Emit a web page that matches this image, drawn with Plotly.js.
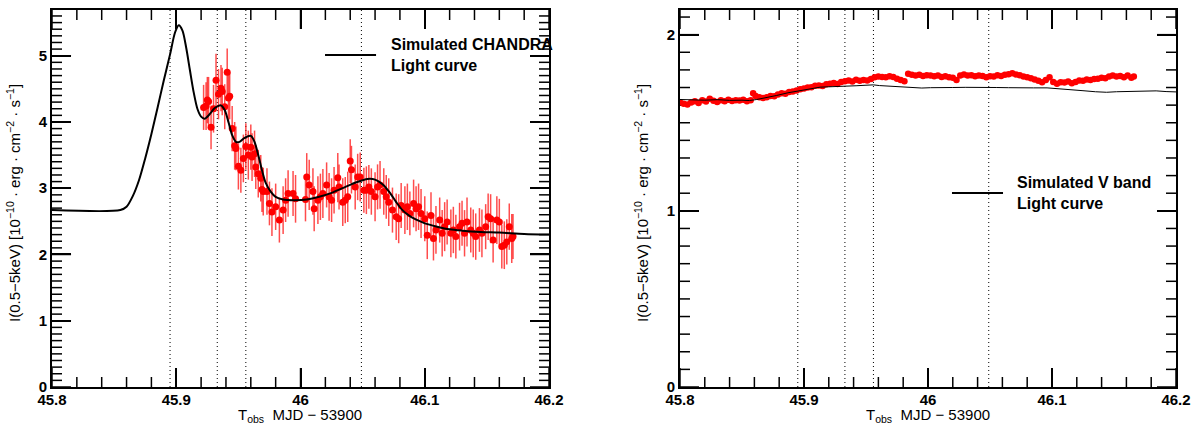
<!DOCTYPE html>
<html><head><meta charset="utf-8">
<script src="https://cdn.plot.ly/plotly-3.0.1.min.js"></script>
<style>html,body{margin:0;padding:0;background:#fff}#chart{width:1195px;height:424px}</style>
</head><body><div id="chart"></div>
<script>
// ---------- Left panel: CHANDRA X-ray ----------
const xrayObsX = [45.922,45.924,45.925,45.926,45.928,45.930,45.932,45.934,45.936,45.937,45.939,45.941,45.942,45.943,45.945,45.947,45.948,45.950,45.952,45.954,45.956,45.958,45.960,45.961,45.963,45.964,45.966,45.968,45.969,
45.970,45.973,45.975,45.977,45.980,45.983,45.986,45.988,45.990,45.994,45.996,46.004,46.005,46.007,46.010,46.011,46.014,46.016,46.018,46.021,46.023,46.025,46.027,46.030,46.031,46.034,46.036,46.038,46.040,46.041,46.044,46.046,46.048,46.051,46.053,46.055,46.057,46.060,46.062,46.064,46.067,46.069,46.071,46.074,46.077,46.079,46.081,46.084,46.086,46.088,46.091,46.093,46.095,46.097,46.100,46.102,46.105,46.107,46.109,46.112,46.114,46.116,46.118,46.121,46.123,46.125,46.128,46.130,46.132,46.134,46.137,46.139,46.141,46.144,46.146,46.149,46.151,46.153,46.155,46.158,46.160,46.162,46.164,46.166,46.168,46.170,46.171];
const xrayObsY = [4.22,4.24,4.33,4.31,3.92,4.20,4.63,4.42,4.51,4.46,4.23,4.75,4.36,4.39,3.90,3.64,3.60,3.33,3.27,3.45,3.63,3.50,3.62,3.47,3.52,3.32,3.22,3.15,2.98,
2.95,2.95,2.77,2.64,2.72,2.52,2.67,2.82,2.92,2.92,2.84,2.83,3.17,3.05,2.95,2.69,2.82,2.87,2.92,3.05,2.87,2.82,2.97,3.16,3.02,2.79,2.82,2.87,3.41,3.28,3.02,3.17,3.17,2.97,2.97,3.02,2.95,2.87,3.02,3.05,2.95,2.87,2.79,2.67,2.57,2.54,2.74,2.67,2.72,2.62,2.77,2.69,2.72,2.62,2.54,2.29,2.59,2.24,2.37,2.52,2.32,2.42,2.49,2.32,2.37,2.27,2.42,2.47,2.32,2.49,2.37,2.32,2.27,2.37,2.32,2.42,2.57,2.54,2.22,2.52,2.49,2.12,2.14,2.19,2.42,2.24,2.27];
const xrayObsErr = [0.34,0.36,0.35,0.37,0.33,0.36,0.40,0.38,0.35,0.36,0.34,0.36,0.37,0.35,0.34,0.36,0.33,0.35,0.34,0.36,0.35,0.37,0.34,0.36,0.35,0.33,0.36,0.35,0.34,
0.36,0.35,0.33,0.36,0.35,0.34,0.36,0.33,0.35,0.34,0.36,0.33,0.36,0.38,0.35,0.34,0.36,0.35,0.37,0.34,0.36,0.33,0.35,0.37,0.34,0.36,0.35,0.38,0.33,0.36,0.34,0.35,0.37,0.34,0.36,0.33,0.35,0.37,0.34,0.36,0.35,0.33,0.36,0.34,0.35,0.37,0.34,0.36,0.35,0.33,0.36,0.34,0.35,0.37,0.34,0.36,0.35,0.33,0.36,0.34,0.35,0.37,0.34,0.36,0.35,0.33,0.36,0.34,0.35,0.37,0.34,0.36,0.35,0.33,0.36,0.34,0.35,0.37,0.34,0.36,0.35,0.33,0.36,0.34,0.35,0.37,0.34];
const xraySimX = [45.800,45.855,45.860,45.865,45.870,45.875,45.880,45.885,45.890,45.895,45.899,45.902,45.905,45.908,45.911,45.914,45.917,45.920,45.923,45.927,45.931,45.936,45.939,45.942,45.945,45.948,45.951,45.955,45.960,45.963,45.966,45.969,45.972,45.976,45.980,45.986,45.995,46.005,46.015,46.025,46.035,46.045,46.054,46.060,46.066,46.072,46.077,46.082,46.088,46.095,46.100,46.110,46.120,46.130,46.145,46.160,46.180,46.200];
const xraySimY = [2.67,2.67,2.72,2.88,3.12,3.45,3.82,4.22,4.63,5.02,5.35,5.46,5.38,5.12,4.78,4.45,4.20,4.08,4.05,4.12,4.21,4.25,4.18,4.00,3.80,3.70,3.70,3.76,3.79,3.70,3.50,3.27,3.08,2.95,2.87,2.83,2.82,2.83,2.87,2.93,3.01,3.09,3.14,3.13,3.06,2.93,2.79,2.67,2.58,2.51,2.47,2.42,2.38,2.36,2.34,2.33,2.31,2.30];

// ---------- Right panel: V band ----------
const vObsX = [45.800,45.803,45.806,45.809,45.812,45.815,45.818,45.821,45.824,45.827,45.830,45.833,45.836,45.839,45.842,45.845,45.848,45.851,45.854,45.857,45.859,45.861,45.864,45.867,45.870,45.873,45.876,45.879,45.882,45.885,45.888,45.891,45.894,45.897,45.900,45.903,45.906,45.909,45.912,45.915,45.918,45.921,45.924,45.927,45.930,45.933,45.936,45.939,45.942,45.945,45.948,45.951,45.954,45.957,45.960,45.963,45.966,45.969,45.972,45.975,45.978,45.981,45.984,45.987,45.990,45.993,45.996,45.999,46.002,46.005,46.008,46.011,46.014,46.017,46.020,46.023,46.026,46.029,46.032,46.035,46.038,46.041,46.044,46.047,46.050,46.053,46.056,46.059,46.062,46.065,46.068,46.071,46.074,46.077,46.080,46.083,46.086,46.089,46.092,46.095,46.098,46.101,46.104,46.107,46.110,46.113,46.116,46.119,46.122,46.125,46.128,46.131,46.134,46.137,46.140,46.143,46.146,46.149,46.152,46.155,46.158,46.161,46.164,46.166];
const vObsY = [1.617,1.608,1.603,1.615,1.622,1.612,1.628,1.620,1.636,1.625,1.618,1.628,1.622,1.630,1.624,1.628,1.626,1.630,1.622,1.628,1.668,1.652,1.645,1.640,1.645,1.652,1.650,1.660,1.668,1.665,1.675,1.678,1.683,1.690,1.695,1.700,1.702,1.710,1.712,1.708,1.718,1.722,1.726,1.720,1.732,1.735,1.740,1.734,1.744,1.738,1.742,1.740,1.748,1.758,1.762,1.760,1.758,1.764,1.760,1.750,1.743,1.736,1.778,1.772,1.768,1.772,1.765,1.770,1.768,1.764,1.768,1.760,1.764,1.758,1.755,1.743,1.768,1.774,1.768,1.770,1.764,1.768,1.766,1.758,1.764,1.762,1.770,1.766,1.772,1.776,1.781,1.774,1.770,1.762,1.758,1.752,1.745,1.738,1.730,1.742,1.758,1.732,1.721,1.730,1.728,1.734,1.724,1.732,1.740,1.738,1.745,1.742,1.748,1.750,1.756,1.752,1.762,1.768,1.762,1.766,1.758,1.768,1.755,1.762];
const vSimX = [45.800,45.810,45.820,45.830,45.840,45.850,45.856,45.862,45.870,45.878,45.887,45.897,45.905,45.913,45.920,45.928,45.935,45.942,45.950,45.956,45.961,45.968,45.975,45.982,45.988,45.995,46.002,46.010,46.020,46.030,46.042,46.055,46.065,46.075,46.085,46.096,46.105,46.115,46.125,46.135,46.144,46.152,46.160,46.168,46.176,46.184,46.192,46.200];
const vSimY = [1.632,1.630,1.628,1.631,1.627,1.628,1.626,1.632,1.642,1.655,1.670,1.683,1.693,1.702,1.704,1.705,1.706,1.710,1.713,1.715,1.711,1.708,1.706,1.701,1.698,1.697,1.699,1.698,1.700,1.701,1.702,1.700,1.699,1.697,1.698,1.698,1.694,1.688,1.682,1.676,1.673,1.676,1.677,1.680,1.678,1.681,1.677,1.675];

// ---------- Axes / labels ----------
const xRange = [45.8, 46.2];
const xTickVals = [45.8, 45.9, 46.0, 46.1, 46.2];
const xTickText = ["45.8", "45.9", "46", "46.1", "46.2"];
const yLeftTicks = [0, 1, 2, 3, 4, 5];
const yRightTicks = [0, 1, 2];
const yLeftMax = 5.69;
const yRightMax = 2.14;
const epochLines = [45.895, 45.933, 45.956, 46.049];
const xTitle = "T<sub>obs</sub>  MJD − 53900";
const yTitle = "I(0.5−5keV) [10<sup>−10</sup> · erg · cm<sup>−2</sup> · s<sup>−1</sup>]";
const legendLeft = "Simulated CHANDRA<br>Light curve";
const legendRight = "Simulated V band<br>Light curve";

const FONT = "Liberation Sans, Arial, Helvetica, sans-serif";
const red = "rgb(255,0,0)";
const INK = "#000000";

// ---------- frame tick marks, built as a line trace from the tick arrays ----------
const PLOT_H = 377, PANEL_W = 496;
function frameTicks(yTicks, yMax) {
  const tx = [], ty = [];
  const seg = (x0, y0, x1, y1) => { tx.push(x0, x1, null); ty.push(y0, y1, null); };
  const xSpan = xRange[1] - xRange[0];
  const majX = yMax * 19 / PLOT_H, minX = yMax * 10 / PLOT_H;
  const majY = xSpan * 19 / PANEL_W, minY = xSpan * 10 / PANEL_W;
  for (let i = 0; i < xTickVals.length; i++) {
    const v = xTickVals[i];
    seg(v, 0, v, majX); seg(v, yMax, v, yMax - majX);
    if (i < xTickVals.length - 1) {
      const st = (xTickVals[i + 1] - v) / 5;
      for (let k = 1; k < 5; k++) { const m = v + k * st; seg(m, 0, m, minX); seg(m, yMax, m, yMax - minX); }
    }
  }
  const sy = (yTicks[1] - yTicks[0]) / 10;
  for (let i = 0; i < yTicks.length; i++) {
    const v = yTicks[i];
    seg(xRange[0], v, xRange[0] + majY, v); seg(xRange[1], v, xRange[1] - majY, v);
    for (let k = 1; k < 10; k++) {
      const m = v + k * sy;
      if (m > yMax) break;
      seg(xRange[0], m, xRange[0] + minY, m); seg(xRange[1], m, xRange[1] - minY, m);
    }
  }
  return {x: tx, y: ty};
}
const leftTicks = frameTicks(yLeftTicks, yLeftMax);
const rightTicks = frameTicks(yRightTicks, yRightMax);

const traces = [
  {x: leftTicks.x, y: leftTicks.y, xaxis: 'x', yaxis: 'y', type: 'scatter', mode: 'lines', line: {color: INK, width: 1.5},
   hoverinfo: 'skip', showlegend: false, cliponaxis: false},
  {x: rightTicks.x, y: rightTicks.y, xaxis: 'x2', yaxis: 'y2', type: 'scatter', mode: 'lines', line: {color: INK, width: 1.5},
   hoverinfo: 'skip', showlegend: false, cliponaxis: false},
  {x: xrayObsX, y: xrayObsY, xaxis: 'x', yaxis: 'y', type: 'scatter', mode: 'markers',
   marker: {color: red, size: 7}, error_y: {type: 'data', array: xrayObsErr, color: 'rgba(255,0,0,0.7)', thickness: 1.5, width: 0},
   showlegend: false},
  {x: xraySimX, y: xraySimY, xaxis: 'x', yaxis: 'y', type: 'scatter', mode: 'lines',
   line: {color: INK, width: 2, shape: 'spline', smoothing: 0.8}, showlegend: false},
  {x: vObsX, y: vObsY, xaxis: 'x2', yaxis: 'y2', type: 'scatter', mode: 'markers',
   marker: {color: red, size: 6.5}, showlegend: false},
  {x: vSimX, y: vSimY, xaxis: 'x2', yaxis: 'y2', type: 'scatter', mode: 'lines',
   line: {color: INK, width: 1}, showlegend: false}
];

function xAxis(domain, anchor) {
  return {domain: domain, anchor: anchor, range: xRange, tickvals: xTickVals, ticktext: xTickText,
    ticks: 'inside', ticklen: 19, tickwidth: 2, tickcolor: INK, mirror: 'ticks',
    showline: true, linewidth: 2, linecolor: INK, showgrid: false, zeroline: false,
    ticklabelstandoff: -2,
    tickfont: {family: FONT, size: 15, color: INK, weight: 'bold'}};
}
function yAxis(range, ticks, anchor) {
  return {domain: [0, 1], anchor: anchor, range: range, tickvals: ticks,
    ticks: 'inside', ticklen: 19, tickwidth: 2, tickcolor: INK, mirror: 'ticks',
    showline: true, linewidth: 2, linecolor: INK, showgrid: false, zeroline: false,
    tickfont: {family: FONT, size: 15, color: INK, weight: 'bold'}};
}

const shapes = [];
epochLines.forEach(v => {
  shapes.push({type: 'line', xref: 'x', yref: 'y domain', x0: v, x1: v, y0: 0, y1: 1, layer: 'below', line: {color: INK, width: 1, dash: '1px,3px'}});
  shapes.push({type: 'line', xref: 'x2', yref: 'y2 domain', x0: v, x1: v, y0: 0, y1: 1, layer: 'below', line: {color: INK, width: 1, dash: '1px,3px'}});
});
shapes.push({type: 'line', xref: 'paper', yref: 'paper', x0: 0.2429, x1: 0.2883, y0: 0.8806, y1: 0.8806, line: {color: INK, width: 2}});
shapes.push({type: 'line', xref: 'paper', yref: 'paper', x0: 0.8007, x1: 0.8461, y0: 0.5146, y1: 0.5146, line: {color: INK, width: 2}});

const xTitleFont = {family: FONT, size: 15, color: INK};
const yTitleFont = {family: FONT, size: 15, color: INK};
const legFont = {family: FONT, size: 16, color: INK, weight: 'bold'};
const annotations = [
  {text: yTitle, xref: 'paper', yref: 'paper', x: -0.0347, y: 0.488, textangle: -90, showarrow: false, xanchor: 'center', yanchor: 'middle', font: yTitleFont},
  {text: yTitle, xref: 'paper', yref: 'paper', x: 0.524, y: 0.488, textangle: -90, showarrow: false, xanchor: 'center', yanchor: 'middle', font: yTitleFont},
  {text: xTitle, xref: 'paper', yref: 'paper', x: 0.2206, y: -0.075, showarrow: false, xanchor: 'center', yanchor: 'middle', font: xTitleFont},
  {text: xTitle, xref: 'paper', yref: 'paper', x: 0.7794, y: -0.075, showarrow: false, xanchor: 'center', yanchor: 'middle', font: xTitleFont},
  {text: legendLeft, xref: 'paper', yref: 'paper', x: 0.2998, y: 0.8806, showarrow: false, xanchor: 'left', yanchor: 'middle', align: 'left', font: legFont},
  {text: legendRight, xref: 'paper', yref: 'paper', x: 0.8568, y: 0.5146, showarrow: false, xanchor: 'left', yanchor: 'middle', align: 'left', font: legFont}
];

const layout = {
  width: 1195, height: 424,
  margin: {l: 52, r: 19, t: 10, b: 37},
  showlegend: false,
  xaxis: xAxis([0, 0.4422], 'y'),
  yaxis: yAxis([0, yLeftMax], yLeftTicks, 'x'),
  xaxis2: xAxis([0.5587, 1], 'y2'),
  yaxis2: yAxis([0, yRightMax], yRightTicks, 'x2'),
  shapes: shapes,
  annotations: annotations,
  font: {family: FONT}
};

Plotly.newPlot('chart', traces, layout, {displayModeBar: false});
</script>
</body></html>
